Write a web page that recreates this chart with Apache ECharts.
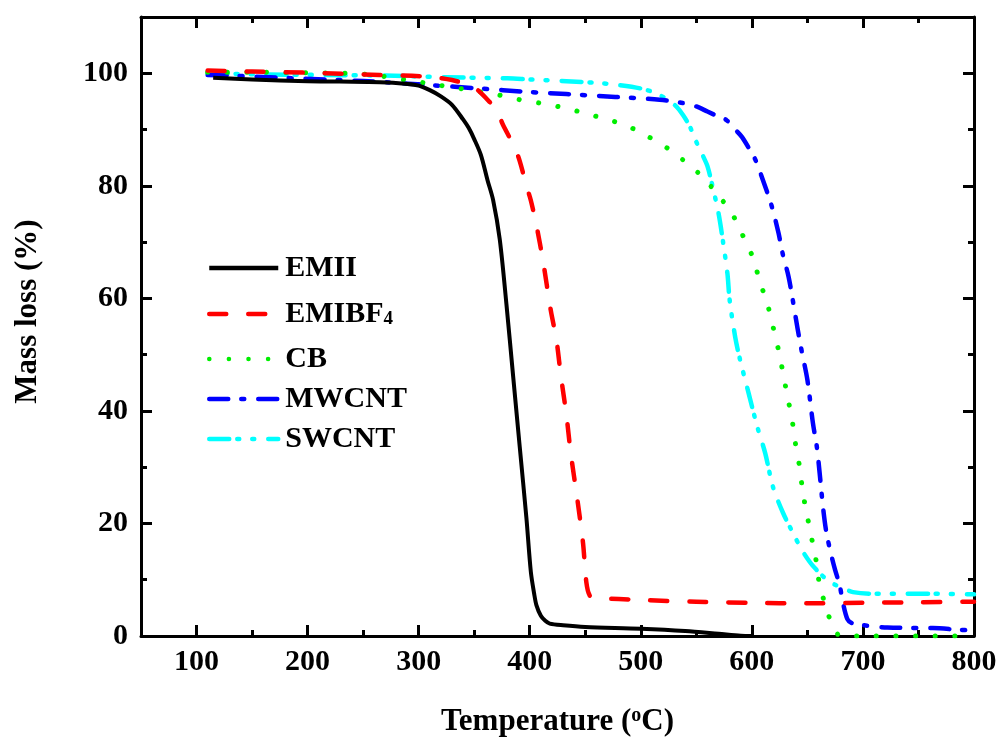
<!DOCTYPE html>
<html><head><meta charset="utf-8">
<script src="https://cdn.jsdelivr.net/npm/echarts@6/dist/echarts.min.js"></script>
<style>html,body{margin:0;padding:0;background:#fff}#c{width:1004px;height:745px}</style>
</head><body><div id="c"></div>
<script>
const seriesNames = ['EMII', 'EMIBF4', 'CB', 'MWCNT', 'SWCNT'];
const xMajorTicks = [100, 200, 300, 400, 500, 600, 700, 800];
const xMinorTicks = [150, 250, 350, 450, 550, 650, 750];
const yMajorTicks = [0, 20, 40, 60, 80, 100];
const yMinorTicks = [10, 30, 50, 70, 90];

const EMII = [[115,99.2],[150,98.9],[200,98.6],[265,98.4],[290,98.1],[300,97.8],[310,97.0],[320,95.9],[330,94.4],[340,91.8],[345,90.3],[350,88.3],[356,85.5],[362,81.0],[367,77.5],[373,70.5],[379,59],[385,46.3],[391,33.6],[397,21],[401,11.4],[404,7.5],[406,5.5],[410,3.6],[414,2.7],[418,2.2],[430,1.9],[450,1.6],[500,1.3],[540,0.9],[570,0.4],[590,0.05],[600,0]];
const EMIBF4 = [[110,100.5],[150,100.3],[200,100.1],[265,99.7],[307,99.4],[330,98.8],[349,97.6],[355,96.7],[362,95.3],[370,93.5],[376,90.8],[386,87],[391,84.4],[397,80],[401,77.4],[406,73],[412,66.6],[419,57.8],[424,52.7],[428,46.3],[433,39.3],[437,32.4],[443,24.1],[448,16.5],[451,9.5],[454,7.2],[460,6.8],[500,6.4],[550,6.1],[600,5.9],[650,5.8],[700,5.9],[750,6.0],[800,6.1]];
const CB = [[110,100.2],[150,100.2],[193,100.1],[235,100],[254,99.8],[270,99.4],[289,98.8],[308,98.2],[337,97.3],[355,96.7],[373,96.1],[391,95.3],[412,94.6],[430,93.9],[448,93.0],[466,92.0],[483,91.0],[499,89.6],[508,88.6],[524,86.7],[538,84.6],[555,81.7],[569,78.5],[582,75.1],[592,71.1],[601,67.2],[607,63.1],[614,59],[619,55],[624,50.8],[628,46.8],[632,42.6],[636,38.7],[639,34.5],[643,30],[646,25.4],[650,21.2],[654,17.2],[658,13.2],[661,9.1],[667,5],[672,2],[676,0.6],[680,0],[800,0]];
const MWCNT = [[110,99.7],[127,99.6],[154,99.4],[190,99.1],[229,98.8],[271,98.4],[310,97.9],[355,97.3],[397,96.7],[433,96.3],[477,95.8],[517,95.3],[538,94.7],[550,94.1],[560,93.2],[570,92.3],[577,91.7],[585,90.0],[591,88.7],[597,86.8],[603,84.7],[610,81],[618,76.3],[624,71.6],[628,67.7],[633,63.9],[637,59.5],[641,54.8],[645,50.5],[650,45.5],[655,37.8],[658.5,33.6],[661,29],[664,23],[667,18.5],[671,14.8],[675,11.7],[679,9.1],[682,5.9],[686,3.0],[690,2.3],[697,2.0],[722,1.5],[763,1.4],[787,1.1],[800,1.0]];
const SWCNT = [[110,100],[160,99.8],[214,99.7],[265,99.6],[325,99.3],[380,99.1],[400,98.9],[433,98.6],[460,98.3],[481,97.9],[500,97.3],[513,96.5],[525,95.2],[532,94.1],[538,92.6],[544,90.6],[550,87.8],[556,85.3],[560,83.5],[564,80.4],[570,75.1],[574,70.1],[578,64.4],[580,59.7],[585,53.1],[589,49.4],[597,43.2],[605,37.1],[612,32.5],[619,26.5],[628,21.9],[637,18.3],[645,15.3],[652,13.2],[658,11.8],[663,10.8],[669,9.8],[675,9.1],[683,8.4],[691,7.8],[709,7.5],[740,7.5],[763,7.5],[800,7.4]];

const FONT = 'Liberation Serif';
const txt = {fontFamily: FONT, fontWeight: 'bold', fontSize: 30, color: '#000'};

function xAx(pos, ticks, len, withLine, withLabel) {
  return {
    type: 'value', position: pos, min: 50, max: 800, gridIndex: 0,
    axisLine: {show: withLine, onZero: false, lineStyle: {color: '#000', width: 3}},
    axisTick: {show: true, inside: true, length: len, customValues: ticks, lineStyle: {color: '#000', width: 3}},
    axisLabel: withLabel ? Object.assign({show: true, customValues: ticks, margin: 11}, txt) : {show: false},
    splitLine: {show: false}
  };
}
function yAx(pos, ticks, len, withLine, withLabel) {
  return {
    type: 'value', position: pos, min: 0, max: 110, gridIndex: 0,
    axisLine: {show: withLine, onZero: false, lineStyle: {color: '#000', width: 3}},
    axisTick: {show: true, inside: true, length: len, customValues: ticks, lineStyle: {color: '#000', width: 3}},
    axisLabel: withLabel ? Object.assign({show: true, customValues: ticks, margin: 13}, txt) : {show: false},
    splitLine: {show: false}
  };
}

const xAxes = [
  xAx('bottom', xMajorTicks, 11, true, true),
  xAx('bottom', xMinorTicks, 6, false, false),
  xAx('top', xMajorTicks, 11, true, false),
  xAx('top', xMinorTicks, 6, false, false)
];
Object.assign(xAxes[0], {
  name: 'Temperature ({sup|o}C)', nameLocation: 'middle', nameGap: 70,
  nameTextStyle: Object.assign({}, txt, {fontSize: 31, lineHeight: 32, rich: {sup: {fontFamily: FONT, fontWeight: 'bold', fontSize: 20, verticalAlign: 'top', lineHeight: 20, padding: [0,0,14,0]}}})
});
const yAxes = [
  yAx('left', yMajorTicks, 11, true, true),
  yAx('left', yMinorTicks, 6, false, false),
  yAx('right', yMajorTicks, 11, true, false),
  yAx('right', yMinorTicks, 6, false, false)
];
Object.assign(yAxes[0], {
  name: 'Mass loss (%)', nameLocation: 'middle', nameGap: 98, nameRotate: 90,
  nameTextStyle: Object.assign({}, txt, {fontSize: 31, padding: [0, 0, 0, 30]})
});

const colors = ['#000000', '#ff0000', '#00ee00', '#0000ff', '#00ffff'];
const dashes = ['solid', [17, 22], [0.1, 19.5], [19, 13, 3, 14], [20, 8, 2, 13, 2, 14]];
const widths = [4, 4.5, 5, 4.5, 4.5];
const datas = [EMII, EMIBF4, CB, MWCNT, SWCNT];

const series = seriesNames.map((n, i) => ({
  name: n, type: 'line', data: datas[i], xAxisIndex: 0, yAxisIndex: 0,
  showSymbol: false, symbol: 'none', smooth: 0.3,
  lineStyle: {color: colors[i], width: widths[i], type: dashes[i], cap: i === 0 ? 'butt' : 'round', join: 'round'},
  itemStyle: {color: colors[i]},
  z: 5 - i
}));

const legendTops = [253, 286, 344, 384, 424];
const legends = seriesNames.map((n, i) => ({
  data: [n], orient: 'vertical', left: 207, top: legendTops[i], padding: 0,
  itemWidth: 69, itemHeight: 20, itemGap: 0, selectedMode: false,
  itemStyle: {opacity: 0},
  lineStyle: {color: colors[i], width: 4.5, type: dashes[i], cap: i === 0 ? 'butt' : 'round', opacity: 1},
  formatter: name => name === 'EMIBF4' ? 'EMIBF{sub|4}' : name,
  textStyle: Object.assign({}, txt, {padding: [0, 0, 0, 2], rich: {sub: {fontFamily: FONT, fontWeight: 'bold', fontSize: 19, verticalAlign: 'bottom', lineHeight: 19, padding: [24, 0, 0, 0]}}})
}));

const chart = echarts.init(document.getElementById('c'), null, {renderer: 'canvas'});
chart.setOption({
  animation: false,
  backgroundColor: '#fff',
  grid: {left: 141, right: 30, top: 17, bottom: 109, containLabel: false, outerBoundsMode: 'none'},
  xAxis: xAxes, yAxis: yAxes,
  legend: legends,
  series: series
});
</script></body></html>
